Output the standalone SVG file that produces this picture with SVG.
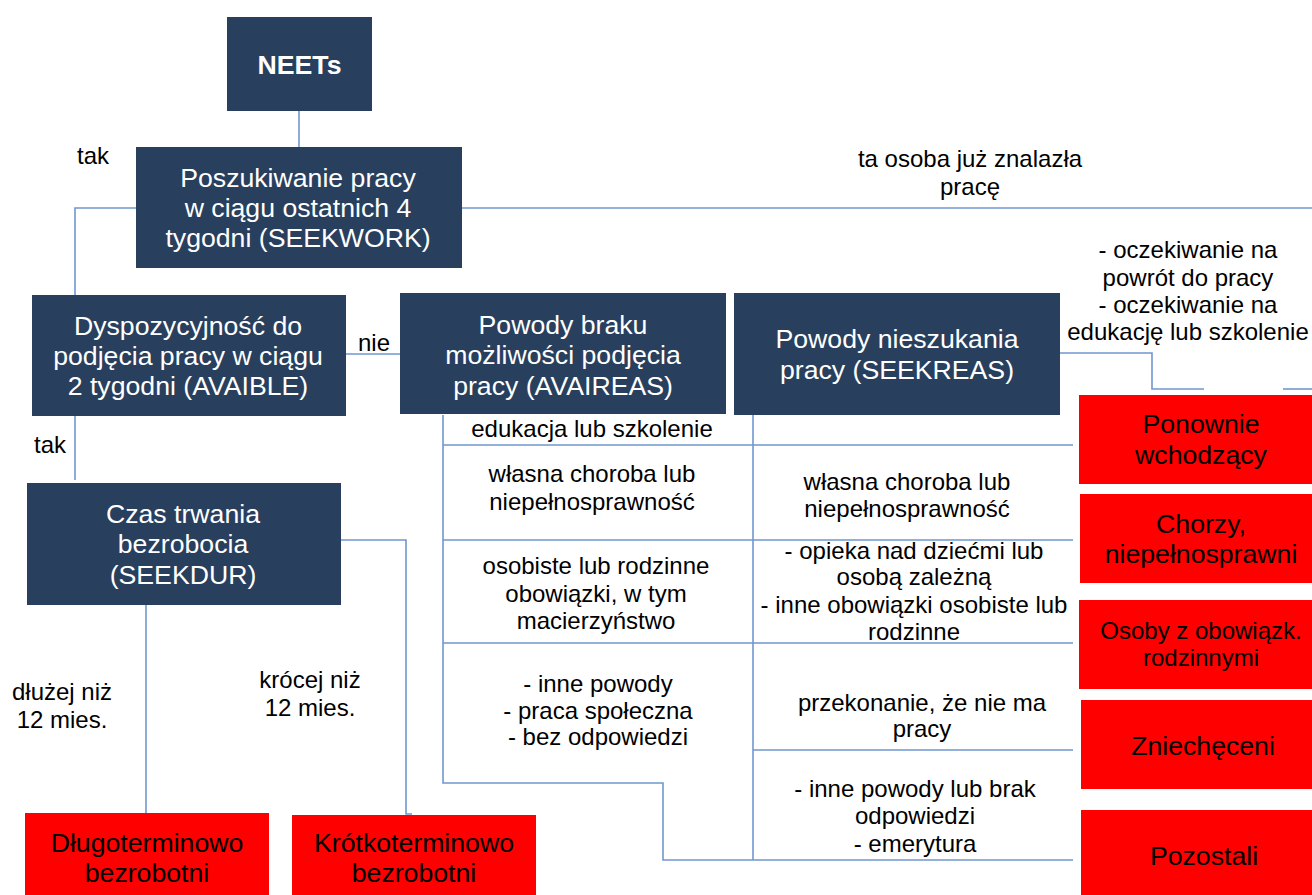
<svg xmlns="http://www.w3.org/2000/svg" width="1312" height="895" viewBox="0 0 1312 895">
<style>
.nb{fill:#283f5e}
.rb{fill:#ff0000}
.wt{fill:#ffffff;font-family:"Liberation Sans",Arial,sans-serif;font-size:26.67px;text-anchor:middle}
.bt{fill:#000000;font-family:"Liberation Sans",Arial,sans-serif;font-size:26.67px;text-anchor:middle}
.lb{fill:#000000;font-family:"Liberation Sans",Arial,sans-serif;font-size:24px;text-anchor:middle}
.ln{fill:none;stroke:#7097cf;stroke-width:1.6}
</style>
<rect width="1312" height="895" fill="#ffffff"/>
<g id="connectors">
<path class="ln" d="M299,111 V147"/>
<path class="ln" d="M136,208 H75 V305"/>
<path class="ln" d="M462,208 H1312"/>
<path class="ln" d="M346,354 H400"/>
<path class="ln" d="M75,416 V480"/>
<path class="ln" d="M146,605 V813"/>
<path class="ln" d="M341,540 H406 V814 H412"/>
<path class="ln" d="M1060,353 H1152 V389 H1204"/>
<path class="ln" d="M1283,389 H1312"/>
<path class="ln" d="M443,415 V783 H663 V860 H1073"/>
<path class="ln" d="M753,415 V860"/>
<path class="ln" d="M443,445 H1073 M443,540 H1073 M443,643 H1073 M753,750 H1073"/>
</g>
<g id="labels">
<text class="lb" x="93" y="164">tak</text>
<text class="lb" x="970" y="167">ta osoba już znalazła</text>
<text class="lb" x="970" y="195">pracę</text>
<text class="lb" x="1188" y="258">- oczekiwanie na</text>
<text class="lb" x="1188" y="286">powrót do pracy</text>
<text class="lb" x="1188" y="313">- oczekiwanie na</text>
<text class="lb" x="1188" y="340">edukację lub szkolenie</text>
<text class="lb" x="374" y="351">nie</text>
<text class="lb" x="50" y="453">tak</text>
<text class="lb" x="62" y="700">dłużej niż</text>
<text class="lb" x="62" y="728">12 mies.</text>
<text class="lb" x="310" y="688">krócej niż</text>
<text class="lb" x="310" y="716">12 mies.</text>
</g>
<g id="avaireas-items">
<text class="lb" x="592" y="437">edukacja lub szkolenie</text>
<text class="lb" x="592" y="482">własna choroba lub</text>
<text class="lb" x="592" y="510">niepełnosprawność</text>
<text class="lb" x="596" y="574">osobiste lub rodzinne</text>
<text class="lb" x="596" y="602">obowiązki, w tym</text>
<text class="lb" x="596" y="629">macierzyństwo</text>
<text class="lb" x="598" y="692">- inne powody</text>
<text class="lb" x="598" y="719">- praca społeczna</text>
<text class="lb" x="598" y="745">- bez odpowiedzi</text>
</g>
<g id="seekreas-items">
<text class="lb" x="907" y="490">własna choroba lub</text>
<text class="lb" x="907" y="517">niepełnosprawność</text>
<text class="lb" x="914" y="559">- opieka nad dziećmi lub</text>
<text class="lb" x="914" y="585">osobą zależną</text>
<text class="lb" x="914" y="613">- inne obowiązki osobiste lub</text>
<text class="lb" x="914" y="640">rodzinne</text>
<text class="lb" x="922" y="711">przekonanie, że nie ma</text>
<text class="lb" x="922" y="737">pracy</text>
<text class="lb" x="915" y="797">- inne powody lub brak</text>
<text class="lb" x="915" y="824">odpowiedzi</text>
<text class="lb" x="915" y="852">- emerytura</text>
</g>
<g id="neets">
<rect class="nb" x="227" y="17" width="145" height="94"/>
<text class="wt" x="299.5" y="74" font-weight="bold">NEETs</text>
</g>
<g id="seekwork">
<rect class="nb" x="136" y="147" width="326" height="121"/>
<text class="wt" x="298" y="187">Poszukiwanie pracy</text>
<text class="wt" x="298" y="217">w ciągu ostatnich 4</text>
<text class="wt" x="298" y="247">tygodni (SEEKWORK)</text>
</g>
<g id="avaible">
<rect class="nb" x="32" y="295" width="314" height="121"/>
<text class="wt" x="188" y="335">Dyspozycyjność do</text>
<text class="wt" x="188" y="365">podjęcia pracy w ciągu</text>
<text class="wt" x="188" y="395">2 tygodni (AVAIBLE)</text>
</g>
<g id="seekdur">
<rect class="nb" x="27" y="483" width="314" height="122"/>
<text class="wt" x="183" y="523">Czas trwania</text>
<text class="wt" x="183" y="553">bezrobocia</text>
<text class="wt" x="183" y="584">(SEEKDUR)</text>
</g>
<g id="avaireas">
<rect class="nb" x="400" y="293" width="326" height="121"/>
<text class="wt" x="563" y="334">Powody braku</text>
<text class="wt" x="563" y="364">możliwości podjęcia</text>
<text class="wt" x="563" y="395">pracy (AVAIREAS)</text>
</g>
<g id="seekreas">
<rect class="nb" x="734" y="293" width="326" height="122"/>
<text class="wt" x="897" y="348">Powody nieszukania</text>
<text class="wt" x="897" y="379">pracy (SEEKREAS)</text>
</g>
<g id="ponownie">
<rect class="rb" x="1079" y="395" width="233" height="89"/>
<text class="bt" x="1201" y="433">Ponownie</text>
<text class="bt" x="1201" y="464">wchodzący</text>
</g>
<g id="chorzy">
<rect class="rb" x="1080" y="494" width="232" height="89"/>
<text class="bt" x="1201" y="533">Chorzy,</text>
<text class="bt" x="1201" y="563">niepełnosprawni</text>
</g>
<g id="osoby">
<rect class="rb" x="1079" y="600" width="233" height="89"/>
<text class="lb" x="1201" y="639">Osoby z obowiązk.</text>
<text class="lb" x="1201" y="666">rodzinnymi</text>
</g>
<g id="zniecheceni">
<rect class="rb" x="1081" y="700" width="231" height="89"/>
<text class="bt" x="1203" y="755">Zniechęceni</text>
</g>
<g id="pozostali">
<rect class="rb" x="1081" y="810" width="231" height="85"/>
<text class="bt" x="1204" y="865">Pozostali</text>
</g>
<g id="dlugo">
<rect class="rb" x="25" y="813" width="244" height="82"/>
<text class="bt" x="147" y="852">Długoterminowo</text>
<text class="bt" x="147" y="882">bezrobotni</text>
</g>
<g id="krotko">
<rect class="rb" x="292" y="815" width="244" height="80"/>
<text class="bt" x="414" y="852">Krótkoterminowo</text>
<text class="bt" x="414" y="882">bezrobotni</text>
</g>
</svg>
